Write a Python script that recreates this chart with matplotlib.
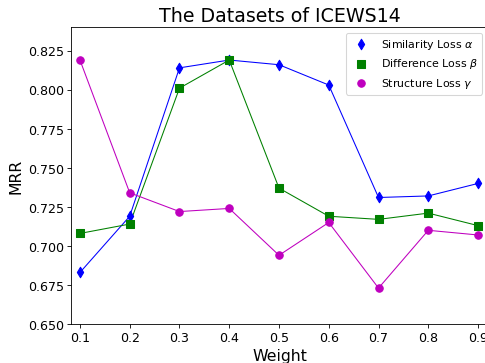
import numpy as np
import matplotlib
matplotlib.use('Agg')
import matplotlib.pyplot as plt

# Weights and MRR values
weights = [0.1, 0.2, 0.3, 0.4, 0.5, 0.6, 0.7, 0.8, 0.9]
similarity = [0.683, 0.719, 0.814, 0.819, 0.816, 0.803, 0.731, 0.732, 0.740]
difference = [0.708, 0.714, 0.801, 0.819, 0.737, 0.719, 0.717, 0.721, 0.713]
structure = [0.819, 0.734, 0.722, 0.724, 0.694, 0.715, 0.673, 0.710, 0.707]
yticks = [0.650, 0.675, 0.700, 0.725, 0.750, 0.775, 0.800, 0.825]

DPI = 485 / 6.4
fig = plt.figure(figsize=(6.4, 4.8), dpi=DPI)
# axes runs a little past the right edge, as in the reference
ax = fig.add_axes([71 / 485, 39 / 364, 417 / 485, 297 / 364])

# lines first, then labelled markers so the legend shows markers only
ax.plot(weights, similarity, color='b', linewidth=1)
ax.plot(weights, difference, color='g', linewidth=1)
ax.plot(weights, structure, color='m', linewidth=1)
ax.scatter(weights, similarity, marker='d', color='b', s=50, zorder=3,
           label=r'Similarity Loss $\alpha$')
ax.scatter(weights, difference, marker='s', color='g', s=45, zorder=3,
           label=r'Difference Loss $\beta$')
ax.scatter(weights, structure, marker='o', color='m', s=50, zorder=3,
           label=r'Structure Loss $\gamma$')

ax.set_xlim(0.082, 0.92)
ax.set_ylim(0.65, 0.84)
ax.set_xticks(weights)
ax.set_yticks(yticks)
ax.tick_params(labelsize=12)
ax.set_xlabel('Weight', fontsize=15)
ax.set_ylabel('MRR', fontsize=15)
ax.set_title('The Datasets of ICEWS14', fontsize=18)
ax.legend(loc='upper right', fontsize=10.5)

fig.savefig('out.png', dpi=DPI)
